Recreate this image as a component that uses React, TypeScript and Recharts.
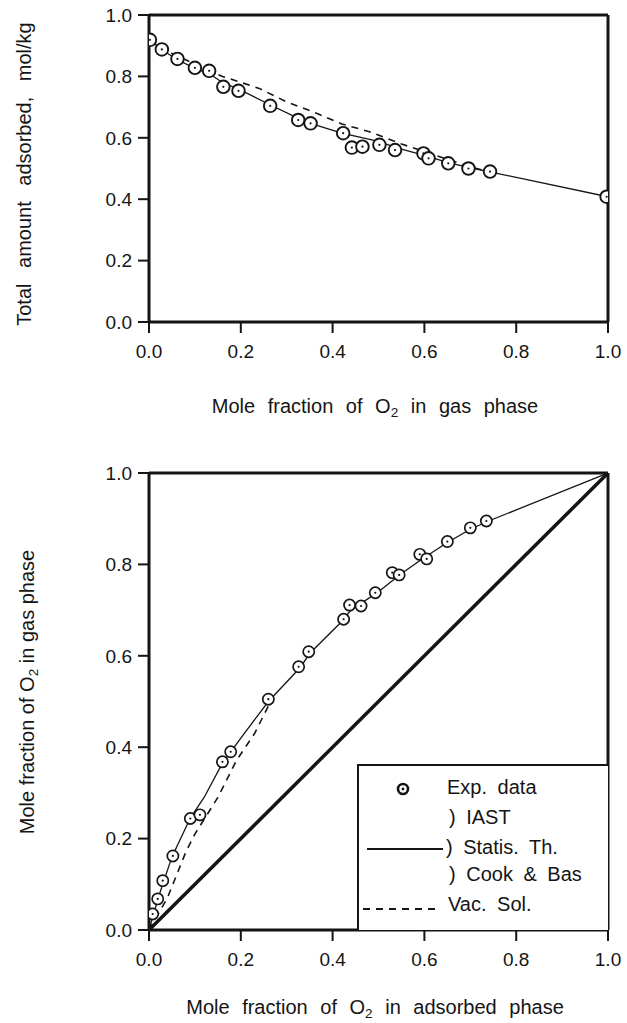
import React from 'react';
import {
  ComposedChart,
  Line,
  Scatter,
  XAxis,
  YAxis,
  ReferenceLine
} from 'recharts';

// top panel: total amount adsorbed vs gas-phase O2 fraction
const topExpX = [0.002, 0.028, 0.062, 0.1, 0.131, 0.162, 0.195, 0.264, 0.325, 0.352, 0.423, 0.442, 0.465, 0.502, 0.536, 0.598, 0.609, 0.652, 0.696, 0.743, 0.997];
const topExpY = [0.919, 0.888, 0.857, 0.828, 0.818, 0.766, 0.753, 0.704, 0.658, 0.647, 0.615, 0.568, 0.571, 0.577, 0.56, 0.549, 0.533, 0.517, 0.5, 0.49, 0.408];
const topSolidX = [0, 0.03, 0.06, 0.1, 0.13, 0.16, 0.2, 0.26, 0.33, 0.35, 0.42, 0.5, 0.54, 0.6, 0.65, 0.7, 0.74, 1.0];
const topSolidY = [0.92, 0.885, 0.856, 0.826, 0.81, 0.78, 0.755, 0.71, 0.66, 0.648, 0.615, 0.588, 0.567, 0.543, 0.52, 0.502, 0.49, 0.408];
const topDashX = [0, 0.05, 0.1, 0.16, 0.24, 0.3, 0.365, 0.42, 0.48, 0.55, 0.62, 0.7, 0.74];
const topDashY = [0.92, 0.875, 0.84, 0.8, 0.761, 0.717, 0.68, 0.645, 0.62, 0.58, 0.545, 0.505, 0.49];

// bottom panel: x-y diagram
const botExpX = [0.008, 0.019, 0.03, 0.052, 0.09, 0.111, 0.16, 0.178, 0.26, 0.326, 0.348, 0.424, 0.437, 0.462, 0.493, 0.53, 0.545, 0.59, 0.605, 0.65, 0.7, 0.735];
const botExpY = [0.035, 0.068, 0.108, 0.162, 0.244, 0.252, 0.368, 0.39, 0.505, 0.576, 0.609, 0.68, 0.711, 0.709, 0.738, 0.782, 0.777, 0.822, 0.812, 0.85, 0.88, 0.895];
const botSolidX = [0, 0.02, 0.05, 0.09, 0.12, 0.16, 0.2, 0.26, 0.33, 0.35, 0.42, 0.44, 0.5, 0.55, 0.6, 0.65, 0.7, 0.74, 1.0];
const botSolidY = [0, 0.07, 0.16, 0.245, 0.29, 0.365, 0.42, 0.5, 0.575, 0.605, 0.675, 0.7, 0.74, 0.78, 0.815, 0.848, 0.877, 0.895, 1.0];
const botDashX = [0, 0.04, 0.08, 0.1, 0.15, 0.17, 0.19, 0.23, 0.26, 0.27];
const botDashY = [0, 0.07, 0.17, 0.21, 0.29, 0.33, 0.37, 0.43, 0.49, 0.51];
const diagX = [0, 1];
const diagY = [0, 1];

const ticks = [0, 0.2, 0.4, 0.6, 0.8, 1.0];

const legendRows = [
  { label: 'Exp. data', top: 23, left: 90 },
  { label: ') IAST', top: 53, left: 92 },
  { label: ') Statis. Th.', top: 83, left: 89 },
  { label: ') Cook & Bas', top: 110, left: 92 },
  { label: 'Vac. Sol.', top: 140, left: 91 }
];

const pts = (xs: number[], ys: number[]) => xs.map((x, i) => ({ x, y: ys[i] }));

const INK = '#151515';
const FONT = '"Liberation Sans", Arial, Helvetica, sans-serif';

const ExpDot = (r: number, sw: number) => (props: any) => {
  const { cx, cy } = props;
  if (cx == null || cy == null) return null;
  return (
    <g>
      <circle cx={cx} cy={cy} r={r} fill="#fff" stroke={INK} strokeWidth={sw} />
      <circle cx={cx} cy={cy} r={1.1} fill={INK} />
    </g>
  );
};

const tickStyle = { fontSize: 19, fill: INK, fontFamily: FONT };
const fmt = (v: number) => v.toFixed(1);

const LegendBox = () => (
  <div style={{ position: 'absolute', left: 357, top: 764, width: 251, height: 166, borderTop: `2px solid ${INK}`, borderLeft: `2px solid ${INK}`, boxSizing: 'border-box', fontFamily: FONT, fontSize: 20, color: INK, background: '#fff' }}>
    <svg width={251} height={166} style={{ position: 'absolute', left: -2, top: -2 }}>
      <circle cx={46} cy={25} r={5} fill="none" stroke={INK} strokeWidth={2.6} />
      <circle cx={46} cy={25} r={1.4} fill={INK} />
      <line x1={10} x2={86} y1={85} y2={85} stroke={INK} strokeWidth={1.8} />
      <line x1={6} x2={84} y1={145} y2={145} stroke={INK} strokeWidth={2} strokeDasharray="7 6" />
    </svg>
    {legendRows.map((r) => (
      <div key={r.label} style={{ position: 'absolute', left: r.left - 2, top: r.top - 14, lineHeight: '24px', whiteSpace: 'pre', wordSpacing: 5 }}>
        {r.label}
      </div>
    ))}
  </div>
);

const Title = ({ children, style }: { children: React.ReactNode; style: React.CSSProperties }) => (
  <div style={{ position: 'absolute', fontFamily: FONT, fontSize: 20, lineHeight: '20px', color: INK, whiteSpace: 'nowrap', ...style }}>
    {children}
  </div>
);

const O2 = () => (
  <span>O<sub style={{ fontSize: '0.68em', verticalAlign: '-0.3em', lineHeight: 0 }}>2</sub></span>
);

export default function App() {
  return (
    <div style={{ position: 'absolute', left: 0, top: 0, width: 627, height: 1023, background: '#fff' }}>
      <div style={{ position: 'absolute', left: 0, top: 0 }}>
        <ComposedChart width={627} height={380} margin={{ top: 15, right: 19, bottom: 18, left: 89 }}>
          <XAxis type="number" dataKey="x" domain={[0, 1]} ticks={ticks} tickFormatter={fmt} allowDataOverflow
            height={40} tick={tickStyle} tickSize={11} tickMargin={12}
            axisLine={{ stroke: INK, strokeWidth: 3 }} tickLine={{ stroke: INK, strokeWidth: 2 }} />
          <YAxis type="number" dataKey="y" domain={[0, 1]} ticks={ticks} tickFormatter={fmt} allowDataOverflow
            width={60} tick={tickStyle} tickSize={11} tickMargin={6}
            axisLine={{ stroke: INK, strokeWidth: 3 }} tickLine={{ stroke: INK, strokeWidth: 2 }} />
          <ReferenceLine y={1} stroke={INK} strokeWidth={3} />
          <ReferenceLine x={1} stroke={INK} strokeWidth={3} />
          <Line data={pts(topDashX, topDashY)} dataKey="y" type="linear" stroke={INK} strokeWidth={1.6} strokeDasharray="7 6" dot={false} activeDot={false} isAnimationActive={false} />
          <Line data={pts(topSolidX, topSolidY)} dataKey="y" type="linear" stroke={INK} strokeWidth={1.3} dot={false} activeDot={false} isAnimationActive={false} />
          <Scatter data={pts(topExpX, topExpY)} dataKey="y" shape={ExpDot(6.3, 1.9)} isAnimationActive={false} />
        </ComposedChart>
      </div>
      <Title style={{ left: 375, top: 396, transform: 'translateX(-50%)', wordSpacing: 7 }}>
        Mole fraction of <O2 /> in gas phase
      </Title>
      <Title style={{ left: 24, top: 174, transform: 'translate(-50%, -50%) rotate(-90deg)', wordSpacing: 10 }}>
        Total amount adsorbed, mol/kg
      </Title>

      <div style={{ position: 'absolute', left: 0, top: 440 }}>
        <ComposedChart width={627} height={560} margin={{ top: 33, right: 19, bottom: 30, left: 89 }}>
          <XAxis type="number" dataKey="x" domain={[0, 1]} ticks={ticks} tickFormatter={fmt} allowDataOverflow
            height={40} tick={tickStyle} tickSize={11} tickMargin={12}
            axisLine={{ stroke: INK, strokeWidth: 3 }} tickLine={{ stroke: INK, strokeWidth: 2 }} />
          <YAxis type="number" dataKey="y" domain={[0, 1]} ticks={ticks} tickFormatter={fmt} allowDataOverflow
            width={60} tick={tickStyle} tickSize={11} tickMargin={6}
            axisLine={{ stroke: INK, strokeWidth: 3 }} tickLine={{ stroke: INK, strokeWidth: 2 }} />
          <ReferenceLine y={1} stroke={INK} strokeWidth={3} />
          <ReferenceLine x={1} stroke={INK} strokeWidth={3} />
          <Line data={pts(diagX, diagY)} dataKey="y" type="linear" stroke={INK} strokeWidth={3.5} dot={false} activeDot={false} isAnimationActive={false} />
          <Line data={pts(botDashX, botDashY)} dataKey="y" type="linear" stroke={INK} strokeWidth={1.6} strokeDasharray="7 6" dot={false} activeDot={false} isAnimationActive={false} />
          <Line data={pts(botSolidX, botSolidY)} dataKey="y" type="linear" stroke={INK} strokeWidth={1.3} dot={false} activeDot={false} isAnimationActive={false} />
          <Scatter data={pts(botExpX, botExpY)} dataKey="y" shape={ExpDot(5.6, 1.7)} isAnimationActive={false} />
        </ComposedChart>
      </div>
      <LegendBox />
      <Title style={{ left: 375, top: 997, transform: 'translateX(-50%)', wordSpacing: 7 }}>
        Mole fraction of <O2 /> in adsorbed phase
      </Title>
      <Title style={{ left: 27, top: 692, transform: 'translate(-50%, -50%) rotate(-90deg)' }}>
        Mole fraction of <O2 /> in gas phase
      </Title>
    </div>
  );
}
